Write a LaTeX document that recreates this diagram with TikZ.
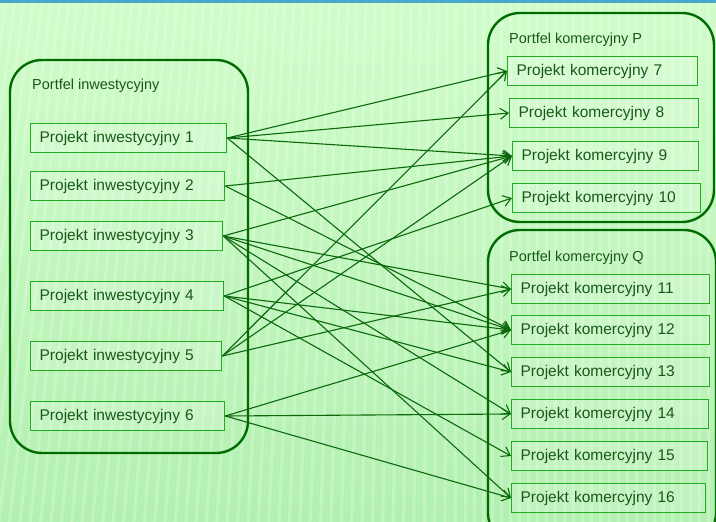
\documentclass[tikz,border=0pt]{standalone}
\usepackage{fontspec}
\setmainfont{Liberation Sans}
\usetikzlibrary{arrows.meta}
\definecolor{bgtop}{RGB}{208,253,202}
\definecolor{bgbot}{RGB}{178,240,176}
\definecolor{framegreen}{RGB}{0,108,0}
\definecolor{boxgreen}{RGB}{34,172,34}
\definecolor{linkgreen}{RGB}{12,104,12}
\definecolor{txtgreen}{RGB}{26,88,26}
\definecolor{topband}{RGB}{70,170,200}
\tikzset{
  portfel/.style={draw=framegreen, line width=2.4pt, rounded corners=32pt,
    inner sep=0pt},
  plabel/.style={text=txtgreen, font=\fontsize{14.5}{17}\selectfont,
    anchor=base west, inner sep=0pt},
  pbox/.style={draw=boxgreen, line width=1.3pt, fill=white, fill opacity=0.18,
    text opacity=1, text=txtgreen, font=\fontsize{15.5}{18}\selectfont,
    anchor=west, minimum height=29pt, inner xsep=9pt, inner ysep=0pt,
    align=left},
  link/.style={draw=linkgreen, line width=1.1pt,
    -{Straight Barb[length=8pt,width=11pt]}},
  stripe/.style={white, opacity=0.22, line width=3pt}
}
\begin{document}
\begin{tikzpicture}[x=1pt,y=-1pt]
\useasboundingbox (0,0) rectangle (716,522);
% background with soft stripes
\fill[top color=bgtop, bottom color=bgbot] (0,0) rectangle (716,522);
\begin{scope}
  \clip (0,0) rectangle (716,522);
  \foreach \x in {-120,-111,...,760} {
    \pgfmathsetmacro\dx{max(0,70*(1-\x/460))}
    \draw[stripe] (\x,0) -- (\x-\dx,522);
  }
  \fill[topband] (0,0) rectangle (716,2.5);
\end{scope}

% portfolio frames
\node[portfel, minimum width=238pt, minimum height=393pt] (pinv) at (129,256.5) {};
\node[portfel, minimum width=226pt, minimum height=209pt] (pP) at (601,117.5) {};
\node[portfel, minimum width=228pt, minimum height=315pt] (pQ) at (602,387.5) {};

\node[plabel] (linv) at (32,89) {Portfel inwestycyjny};
\node[plabel] (lP) at (509,43) {Portfel komercyjny P};
\node[plabel] (lQ) at (509,261) {Portfel komercyjny Q};

% investment projects
\node[pbox, text width=178pt] (i1) at (30,138) {Projekt inwestycyjny 1};
\node[pbox, text width=176pt] (i2) at (30,186) {Projekt inwestycyjny 2};
\node[pbox, text width=174pt] (i3) at (30,236) {Projekt inwestycyjny 3};
\node[pbox, text width=175pt] (i4) at (30,296) {Projekt inwestycyjny 4};
\node[pbox, text width=173pt] (i5) at (30,356) {Projekt inwestycyjny 5};
\node[pbox, text width=176pt] (i6) at (30,416) {Projekt inwestycyjny 6};

% commercial projects
\node[pbox, text width=172pt] (c7)  at (507,71)  {Projekt komercyjny 7};
\node[pbox, text width=171pt] (c8)  at (509,113) {Projekt komercyjny 8};
\node[pbox, text width=168pt] (c9)  at (512,156) {Projekt komercyjny 9};
\node[pbox, text width=170pt] (c10) at (512,198) {Projekt komercyjny 10};
\node[pbox, text width=180pt] (c11) at (511,289) {Projekt komercyjny 11};
\node[pbox, text width=180pt] (c12) at (511,330) {Projekt komercyjny 12};
\node[pbox, text width=180pt] (c13) at (511,372) {Projekt komercyjny 13};
\node[pbox, text width=179pt] (c14) at (511,414) {Projekt komercyjny 14};
\node[pbox, text width=178pt] (c15) at (511,456) {Projekt komercyjny 15};
\node[pbox, text width=176pt] (c16) at (511,498) {Projekt komercyjny 16};

% links between projects
\foreach \a/\b in {i1/c7, i1/c8, i1/c9, i1/c13,
                   i2/c9, i2/c12,
                   i3/c9, i3/c11, i3/c12, i3/c14, i3/c16,
                   i4/c10, i4/c12, i4/c13, i4/c15,
                   i5/c7, i5/c9, i5/c11,
                   i6/c12, i6/c14, i6/c16}
  \draw[link] (\a.east) -- (\b.west);
\end{tikzpicture}
\end{document}
